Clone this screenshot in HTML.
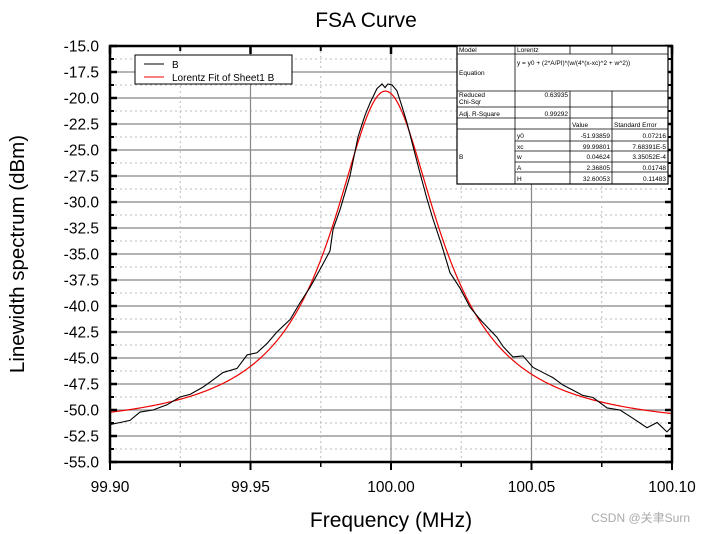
<!DOCTYPE html>
<html><head><meta charset="utf-8"><style>
html,body{margin:0;padding:0;background:#fff;}
svg{display:block;font-family:"Liberation Sans","Noto Sans CJK SC",sans-serif;}
</style></head><body>
<svg id="c" width="705" height="534" xmlns="http://www.w3.org/2000/svg">
<rect width="705" height="534" fill="#fff"/>
<g id="grid"></g>
<g id="series"></g>
<g id="axes"></g>
<text x="366" y="27" font-size="21" text-anchor="middle">FSA Curve</text>
<text x="391" y="527" font-size="21" text-anchor="middle">Frequency (MHz)</text>
<text transform="translate(24,254) rotate(-90)" font-size="20.5" text-anchor="middle">Linewidth spectrum (dBm)</text>
<g>
<rect x="135" y="55" width="157" height="29" fill="#fff" stroke="#000" stroke-width="1"/>
<line x1="144" y1="64" x2="164" y2="64" stroke="#000"/>
<text x="172" y="68" font-size="10">B</text>
<line x1="144" y1="77" x2="164" y2="77" stroke="#e00"/>
<text x="172" y="81" font-size="10">Lorentz Fit of Sheet1 B</text>
</g>
<g font-size="6.5" stroke-width="0.8">
<rect x="457" y="46" width="211" height="138" fill="#fff" stroke="#000" stroke-width="1.2"/>
<g stroke="#000">
<line x1="457" y1="54" x2="668" y2="54"/><line x1="457" y1="91" x2="668" y2="91"/>
<line x1="457" y1="107" x2="668" y2="107"/><line x1="457" y1="118" x2="668" y2="118"/>
<line x1="457" y1="129" x2="668" y2="129"/><line x1="515" y1="141" x2="668" y2="141"/>
<line x1="515" y1="151" x2="668" y2="151"/><line x1="515" y1="162" x2="668" y2="162"/>
<line x1="515" y1="172" x2="668" y2="172"/>
<line x1="515" y1="46" x2="515" y2="184"/>
<line x1="570" y1="46" x2="570" y2="54"/><line x1="612" y1="46" x2="612" y2="54"/>
<line x1="570" y1="91" x2="570" y2="184"/><line x1="612" y1="91" x2="612" y2="184"/>
</g>
<text x="459" y="52">Model</text><text x="517" y="52">Lorentz</text>
<text x="517" y="65">y = y0 + (2*A/PI)*(w/(4*(x-xc)^2 + w^2))</text>
<text x="459" y="75">Equation</text>
<text x="459" y="97">Reduced</text><text x="459" y="104">Chi-Sqr</text>
<text x="568" y="97" text-anchor="end">0.63935</text>
<text x="459" y="116">Adj. R-Square</text><text x="568" y="116" text-anchor="end">0.99292</text>
<text x="572" y="127">Value</text><text x="614" y="127">Standard Error</text>
<text x="459" y="159">B</text>
<text x="517" y="138">y0</text><text x="610" y="138" text-anchor="end">-51.93859</text><text x="666" y="138" text-anchor="end">0.07216</text>
<text x="517" y="149">xc</text><text x="610" y="149" text-anchor="end">99.99801</text><text x="666" y="149" text-anchor="end">7.68391E-5</text>
<text x="517" y="159">w</text><text x="610" y="159" text-anchor="end">0.04624</text><text x="666" y="159" text-anchor="end">3.35052E-4</text>
<text x="517" y="170">A</text><text x="610" y="170" text-anchor="end">2.36805</text><text x="666" y="170" text-anchor="end">0.01748</text>
<text x="517" y="181">H</text><text x="610" y="181" text-anchor="end">32.60053</text><text x="666" y="181" text-anchor="end">0.11483</text>
</g>
<text x="690" y="522" font-size="12" fill="#aaa" text-anchor="end">CSDN @关聿Surn</text>
</svg>
<script>
const freqs=[99.9000,99.9036,99.9071,99.9107,99.9153,99.9203,99.9249,99.9285,99.9331,99.9367,99.9402,99.9452,99.9488,99.9523,99.9559,99.9594,99.9641,99.9676,99.9712,99.9747,99.9783,99.9794,99.9819,99.9854,99.9883,99.9907,99.9925,99.9950,99.9968,99.9979,99.9989,100.0004,100.0021,100.0039,100.0057,100.0078,100.0103,100.0128,100.0149,100.0181,100.0210,100.0246,100.0281,100.0317,100.0352,100.0377,100.0399,100.0434,100.0470,100.0505,100.0541,100.0577,100.0612,100.0648,100.0683,100.0719,100.0769,100.0815,100.0861,100.0911,100.0947,100.0982,100.1000];
const powers=[-51.4,-51.2,-51.0,-50.2,-50.0,-49.5,-48.75,-48.5,-47.8,-47.1,-46.4,-46.0,-44.7,-44.5,-43.6,-42.5,-41.3,-39.7,-38.2,-36.5,-34.7,-32.6,-30.7,-27.5,-23.7,-21.7,-20.5,-19.1,-18.65,-19.0,-18.65,-18.75,-19.3,-20.8,-22.4,-24.6,-27.2,-29.7,-31.6,-34.2,-36.8,-38.3,-40.1,-41.3,-42.3,-43.0,-43.9,-44.9,-44.8,-45.9,-46.4,-46.9,-47.6,-48.1,-48.6,-48.8,-49.8,-50.0,-50.8,-51.7,-51.2,-52.1,-51.6];
const fitParams=[-51.93859,99.99801,0.04624,2.36805]; // y0, xc, w, A
const xTicks=["99.90","99.95","100.00","100.05","100.10"];
const yTicks=["-15.0","-17.5","-20.0","-22.5","-25.0","-27.5","-30.0","-32.5","-35.0","-37.5","-40.0","-42.5","-45.0","-47.5","-50.0","-52.5","-55.0"];
const NS="http://www.w3.org/2000/svg";
const X0=110,X1=672,Y0=46,Y1=462,XMIN=99.9,XMAX=100.1,YMIN=-55,YMAX=-15;
const sx=v=>X0+(v-XMIN)/(XMAX-XMIN)*(X1-X0);
const sy=v=>Y1-(v-YMIN)/(YMAX-YMIN)*(Y1-Y0);
function mk(t,a,p){const e=document.createElementNS(NS,t);for(const k in a)e.setAttribute(k,a[k]);p.appendChild(e);return e;}
const grid=document.getElementById('grid'),axes=document.getElementById('axes'),ser=document.getElementById('series');
for(let v=-55;v<=-15.01;v+=1.25){
 const major=Math.abs((v/2.5)-Math.round(v/2.5))<1e-6;
 const l=mk('line',{x1:X0,x2:X1,y1:sy(v),y2:sy(v),stroke:major?'#888':'#bbb','stroke-width':major?1.2:1,'stroke-dasharray':major?'none':'2,3'},grid);
 
 
}
for(let i=1;i<8;i++){
 const v=XMIN+i*0.025,major=i%2===0;
 const l=mk('line',{x1:sx(v),x2:sx(v),y1:Y0,y2:Y1,stroke:major?'#888':'#bbb','stroke-width':major?1.2:1,'stroke-dasharray':major?'none':'2,3'},grid);
 
 
}
let fd='';
for(let i=0;i<=400;i++){
 const f=XMIN+(XMAX-XMIN)*i/400,[y0,xc,w,A]=fitParams;
 const y=y0+(2*A/Math.PI)*(w/(4*(f-xc)*(f-xc)+w*w));
 fd+=(i?'L':'M')+sx(f).toFixed(2)+' '+sy(y).toFixed(2);
}
const fp=mk('path',{d:fd,fill:'none',stroke:'#e00','stroke-width':1.2},ser);


let dd='';
freqs.forEach((f,i)=>{dd+=(i?'L':'M')+sx(f).toFixed(2)+' '+sy(powers[i]).toFixed(2);});
const dp=mk('path',{d:dd,fill:'none',stroke:'#000','stroke-width':1.1},ser);


const fr=mk('rect',{x:X0,y:Y0,width:X1-X0,height:Y1-Y0,fill:'none',stroke:'#000','stroke-width':2.5},axes);


yTicks.forEach((t,i)=>{
 const v=parseFloat(t),y=sy(v);
 mk('line',{x1:X0,x2:X0+7,y1:y,y2:y,stroke:'#000','stroke-width':2.5},axes);
 mk('line',{x1:X1,x2:X1-7,y1:y,y2:y,stroke:'#000','stroke-width':2.5},axes);
 if(i<yTicks.length-1){const ym=sy(v-1.25);
  mk('line',{x1:X0,x2:X0+4,y1:ym,y2:ym,stroke:'#000','stroke-width':2},axes);
  mk('line',{x1:X1,x2:X1-4,y1:ym,y2:ym,stroke:'#000','stroke-width':2},axes);}
 const tx=mk('text',{x:X0-11,y:y+5.5,'font-size':15.5,'text-anchor':'end'},axes);
 tx.textContent=t;
 
 
});
xTicks.forEach((t,i)=>{
 const v=parseFloat(t),x=sx(v);
 mk('line',{x1:x,x2:x,y1:Y1,y2:Y1+8,stroke:'#000','stroke-width':2},axes);
 mk('line',{x1:x,x2:x,y1:Y0,y2:Y0+8,stroke:'#000','stroke-width':2.5},axes);
 if(i<xTicks.length-1){const xm=sx(v+0.025);
  mk('line',{x1:xm,x2:xm,y1:Y1,y2:Y1+5,stroke:'#000','stroke-width':1.5},axes);
  mk('line',{x1:xm,x2:xm,y1:Y0,y2:Y0+5,stroke:'#000','stroke-width':2},axes);}
 const tx=mk('text',{x:x,y:Y1+30,'font-size':15.5,'text-anchor':'middle'},axes);
 tx.textContent=t;
 
 
});
</script>
</body></html>
